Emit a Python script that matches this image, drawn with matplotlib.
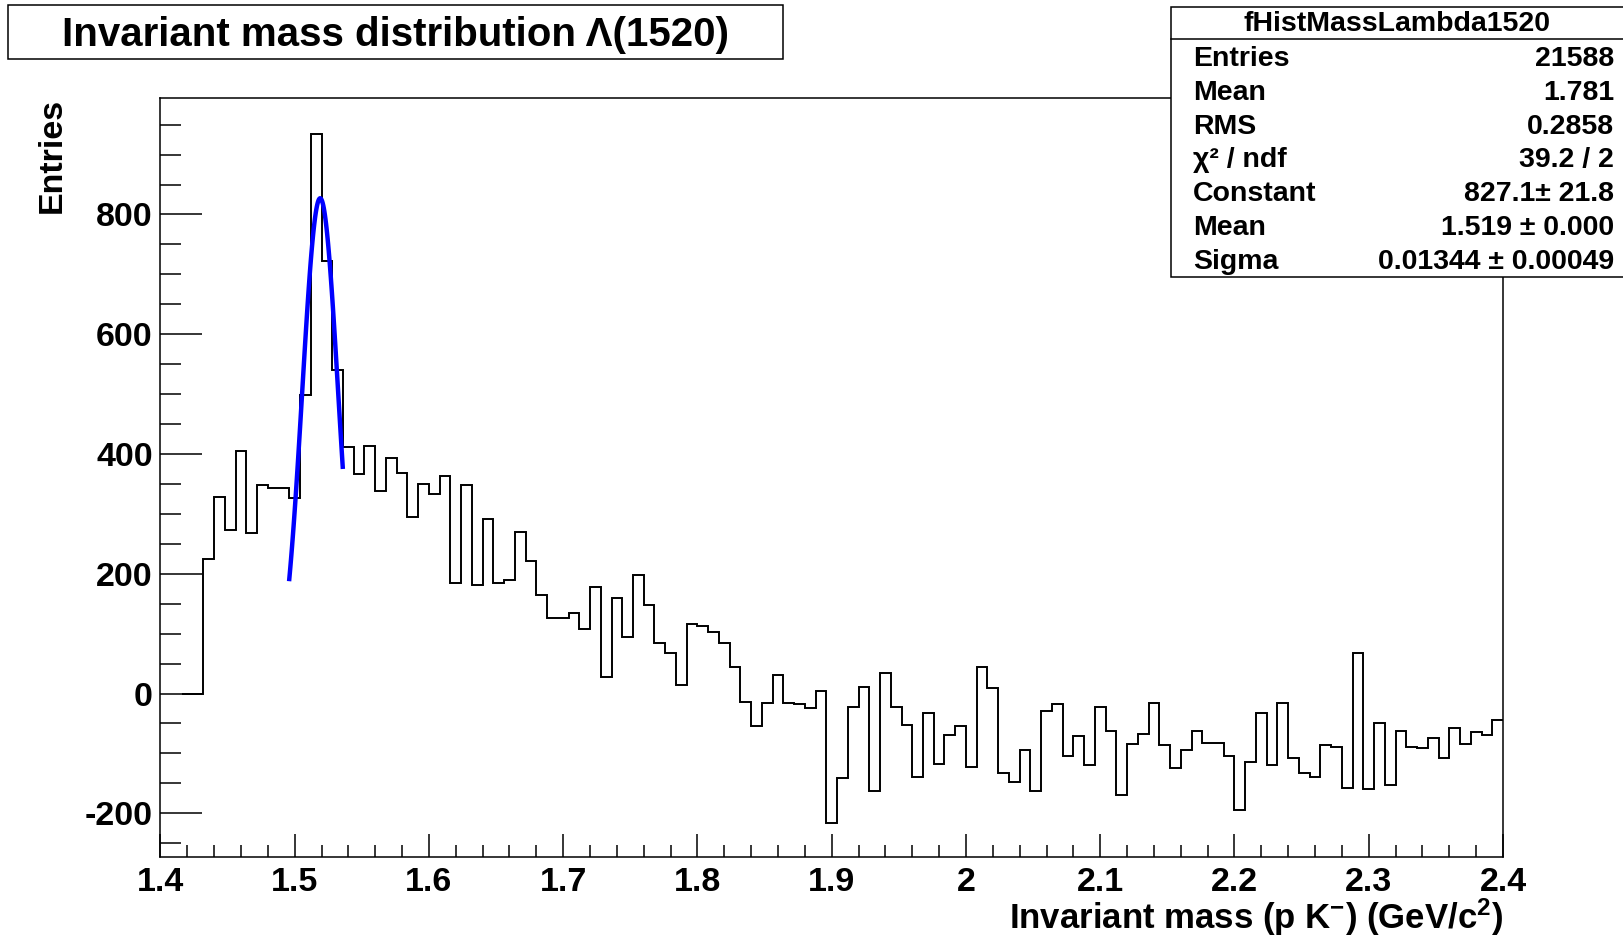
'''
invariant mass of p K- pairs, Lambda(1520) peak with gaussian fit
'''

import numpy as np
import matplotlib
matplotlib.use('Agg')
import matplotlib.pyplot as plt
from matplotlib.patches import Rectangle
from matplotlib.lines import Line2D
from matplotlib.ticker import MultipleLocator, FixedLocator, FixedFormatter

plt.rcParams['font.family'] = ['Liberation Sans', 'DejaVu Sans']
plt.rcParams['font.weight'] = 'bold'
plt.rcParams['axes.unicode_minus'] = False
plt.rcParams['mathtext.fontset'] = 'custom'
plt.rcParams['mathtext.bf'] = 'Liberation Sans:bold'
plt.rcParams['mathtext.rm'] = 'Liberation Sans:bold'

# histogram: 0.008 wide bins starting at 1.416 GeV/c^2
bin_low = 1.416
bin_width = 0.008
counts = [0, 0, 224, 329, 273, 405, 268, 348, 343, 343,
          327, 499, 934, 723, 540, 412, 366, 414, 339, 393,
          369, 295, 350, 334, 363, 185, 349, 182, 292, 185,
          190, 270, 221, 165, 126, 126, 134, 108, 178, 28,
          160, 94, 198, 147, 85, 67, 15, 116, 112, 103,
          85, 44, -14, -55, -15, 31, -15, -18, -25, 4,
          -216, -141, -22, 11, -163, 35, -22, -53, -139, -33,
          -117, -69, -55, -122, 44, 9, -132, -148, -95, -163,
          -29, -18, -105, -71, -119, -22, -62, -170, -84, -68,
          -16, -86, -124, -95, -62, -83, -83, -104, -194, -114,
          -33, -119, -16, -108, -132, -139, -86, -90, -157, 68,
          -159, -50, -153, -62, -89, -91, -75, -108, -58, -84,
          -64, -70, -44]

# gaussian fit parameters and range
fit_const = 827.1
fit_mean = 1.519
fit_sigma = 0.01344
fit_lo = 1.496
fit_hi = 1.5358

x_ticks = [1.4, 1.5, 1.6, 1.7, 1.8, 1.9, 2.0, 2.1, 2.2, 2.3, 2.4]
x_labels = ['1.4', '1.5', '1.6', '1.7', '1.8', '1.9', '2', '2.1', '2.2', '2.3', '2.4']
y_ticks = [-200, 0, 200, 400, 600, 800]

stat_names = ['Entries', 'Mean', 'RMS', 'χ² / ndf', 'Constant', 'Mean', 'Sigma']
stat_values = ['21588', '1.781', '0.2858', '39.2 / 2', '827.1± 21.8',
               '1.519 ± 0.000', '0.01344 ± 0.00049']

W, H = 1623, 941


def gaus(x, c, m, s):
    return c * np.exp(-0.5 * ((x - m) / s) ** 2)


def main():
    fig = plt.figure(figsize=(W / 100, H / 100), dpi=100)
    ax = fig.add_axes([160.4 / W, 1 - 857 / H, (1503 - 160.4) / W, (857 - 98.3) / H])

    edges = bin_low + bin_width * np.arange(len(counts) + 1)
    ax.stairs(counts, edges, baseline=None, color='black', lw=1.4)

    xf = np.linspace(fit_lo, fit_hi, 100)
    ax.plot(xf, gaus(xf, fit_const, fit_mean, fit_sigma), color='#0000ff', lw=3.2)

    ax.set_xlim(1.4, 2.4)
    ax.set_ylim(-273, 994)
    ax.xaxis.set_major_locator(FixedLocator(x_ticks))
    ax.xaxis.set_major_formatter(FixedFormatter(x_labels))
    ax.xaxis.set_minor_locator(MultipleLocator(0.02))
    ax.yaxis.set_major_locator(FixedLocator(y_ticks))
    ax.yaxis.set_minor_locator(MultipleLocator(50))

    ax.tick_params(which='both', direction='in', top=False, right=False,
                   labelsize=24.5, width=1.1)
    ax.tick_params(axis='y', which='major', length=30, pad=5.5)
    ax.tick_params(axis='y', which='minor', length=15)
    ax.tick_params(axis='x', which='major', length=16.5, pad=7)
    ax.tick_params(axis='x', which='minor', length=8.5)
    for sp in ax.spines.values():
        sp.set_linewidth(1.1)

    # axis titles, ROOT style (at the end of the axis)
    fig.text(52 / W, 1 - 98 / H, 'Entries', rotation=90, ha='center', va='top', fontsize=24.5)
    fig.text(1503 / W, 1 - 929 / H,
             'Invariant mass (p K$\\mathbf{^{-}}$) (GeV/c$\\mathbf{^{2}}$)',
             ha='right', va='baseline', fontsize=25)

    # title box
    fig.add_artist(Rectangle((8 / W, 1 - 59 / H), (783 - 8) / W, (59 - 5) / H,
                             transform=fig.transFigure, facecolor='white',
                             edgecolor='black', lw=1.1))
    fig.text(395.5 / W, 1 - 45.5 / H, 'Invariant mass distribution Λ(1520)',
             ha='center', va='baseline', fontsize=29)

    # stats box
    fig.add_artist(Rectangle((1171 / W, 1 - 277 / H), (1640 - 1171) / W, (277 - 6.5) / H,
                             transform=fig.transFigure, facecolor='white',
                             edgecolor='black', lw=1.1))
    fig.add_artist(Line2D([1171 / W, 1.0], [1 - 39 / H, 1 - 39 / H],
                          transform=fig.transFigure, color='black', lw=1.1))
    fig.text((1171 + 1623) / 2 / W, 1 - 31 / H, 'fHistMassLambda1520',
             ha='center', va='baseline', fontsize=20.5)
    for i in range(len(stat_names)):
        yb = 1 - (66 + 33.8 * i) / H
        fig.text(1193 / W, yb, stat_names[i], ha='left', va='baseline', fontsize=20.5)
        fig.text(1614 / W, yb, stat_values[i], ha='right', va='baseline', fontsize=20.5)

    fig.savefig('out.png', dpi=100)


main()
